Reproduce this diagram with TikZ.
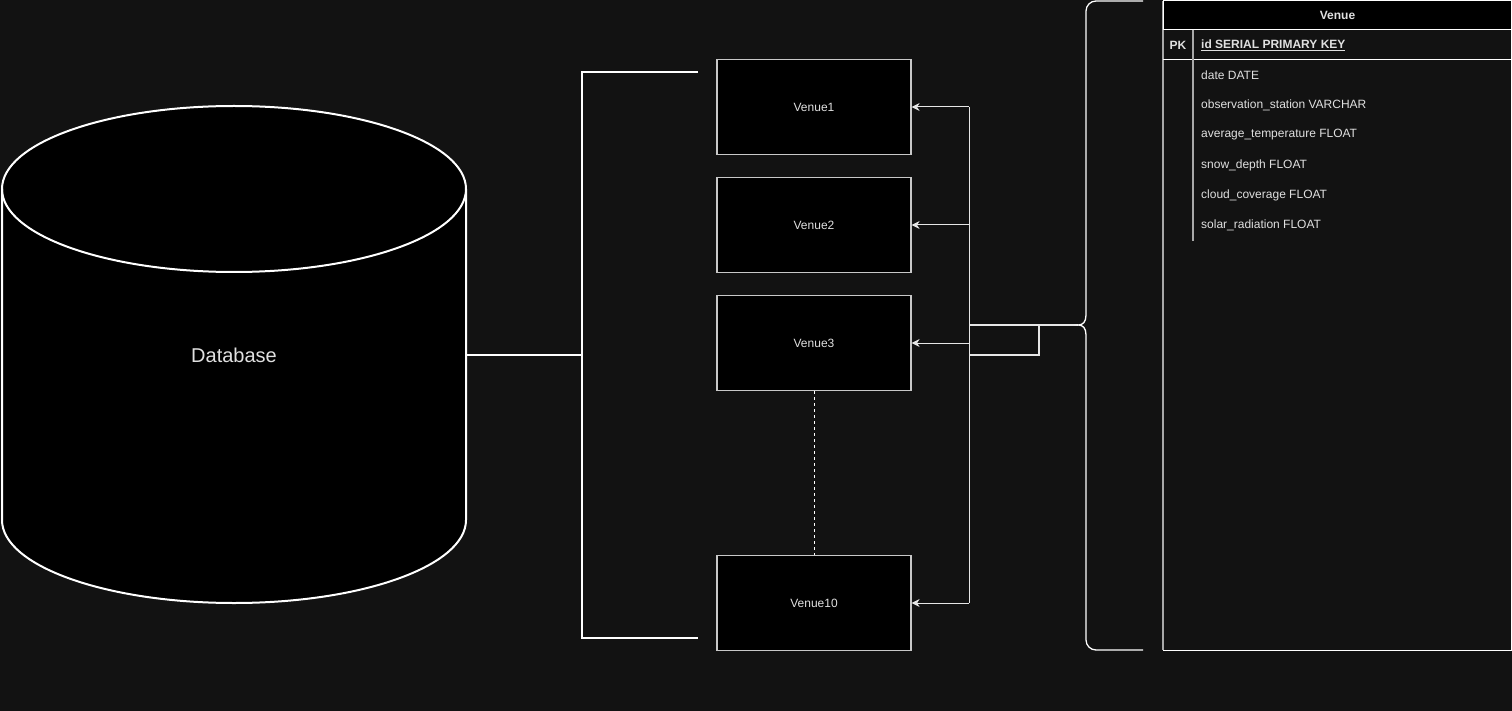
\documentclass[tikz,border=0pt]{standalone}
\usepackage{fontspec}
\setmainfont{Liberation Sans}
\usetikzlibrary{arrows.meta}
\definecolor{bg}{HTML}{121212}
\definecolor{boxline}{HTML}{C8C8C8}
\definecolor{txt}{HTML}{E0E0E0}
\definecolor{conn}{HTML}{E6E6E6}
\definecolor{divline}{HTML}{A8A8A8}
\tikzset{
  venue/.style={draw=boxline, line width=1.2pt, fill=black, minimum width=194pt, minimum height=95pt, inner sep=0pt, text=txt, font=\fontsize{12}{14}\selectfont},
  heavy/.style={draw=white, line width=2pt},
  conline/.style={draw=conn, line width=1pt},
  arr/.style={conline, -{Stealth[length=8pt,width=8pt,inset=2.5pt]}},
  field/.style={anchor=west, inner sep=0pt, text=txt, font=\fontsize{12}{14}\selectfont},
}
\begin{document}
\begin{tikzpicture}[x=1pt,y=-1pt]
\fill[bg] (0,0) rectangle (1512,711);
\useasboundingbox (0,0) rectangle (1512,711);

% Database cylinder
\fill[black] (2,189) -- (2,520) arc[start angle=180,end angle=360,x radius=232pt,y radius=83pt] -- (466,189) arc[start angle=0,end angle=180,x radius=232pt,y radius=83pt] -- cycle;
\draw[heavy] (2,189) -- (2,520) arc[start angle=180,end angle=360,x radius=232pt,y radius=83pt] -- (466,189);
\draw[heavy] (234,189) ellipse[x radius=232pt,y radius=83pt];
\node[minimum width=464pt, minimum height=496pt, inner sep=0pt, text=txt, font=\fontsize{20}{24}\selectfont] (db) at (234,355) {Database};

% bracket
\coordinate (bktop) at (698,72);
\coordinate (bkbot) at (698,638);
\coordinate (bkmid) at (582,355);
\draw[heavy] (bktop) -- (582,72) -- (582,638) -- (bkbot);
\draw[heavy] (db.east) -- (bkmid);

% venues
\node[venue] (v1) at (814,107) {Venue1};
\node[venue] (v2) at (814,225) {Venue2};
\node[venue] (v3) at (814,343) {Venue3};
\node[venue] (v10) at (814,603) {Venue10};
\draw[draw=white, line width=1pt, dash pattern=on 3pt off 3pt] (v3.south) -- (v10.north);

% arrows
\coordinate (c1) at (969,107);
\coordinate (c2) at (969,225);
\coordinate (c3) at (969,343);
\coordinate (c10) at (969,603);
\draw[conline] (c1) -- (c10);
\draw[arr] (c1) -- (v1.east);
\draw[arr] (c2) -- (v2.east);
\draw[arr] (c3) -- (v3.east);
\draw[arr] (c10) -- (v10.east);

% link to brace
\coordinate (la) at (969,325);
\coordinate (lb) at (969,355);
\coordinate (bt) at (1078,325);
\draw[conline, line width=1.5pt] (la) -- (bt);
\draw[conline, line width=1.5pt] (1039,325) -- (1039,355) -- (lb);

% brace
\draw[draw=white, line width=1.3pt] (1143,1) -- (1096,1) arc[start angle=90,end angle=180,radius=10pt] -- (1086,315)
  .. controls (1086,322) and (1083,325) .. (bt)
  .. controls (1083,325) and (1086,328) .. (1086,335) -- (1086,640)
  arc[start angle=180,end angle=270,radius=10pt] -- (1143,650);

% table
\draw[draw=white, line width=1pt] (1163,1) rectangle (1511,650);
\draw[draw=divline, line width=1.5pt] (1163,1) -- (1163,650);
\node[draw=white, line width=1pt, fill=black, minimum width=348pt, minimum height=29pt, inner sep=0pt, anchor=north west, text=txt, font=\fontsize{12}{14}\selectfont\bfseries] (hdr) at (1163,0.5) {Venue};
\draw[draw=white, line width=1pt] (1163,60) -- (1511,60);
\draw[draw=divline, line width=1.5pt] (1193,30) -- (1193,241);
\node[inner sep=0pt, text=txt, font=\fontsize{12}{14}\selectfont\bfseries] (pk) at (1178,45) {PK};
\node[field, font=\fontsize{12}{14}\selectfont\bfseries] (f0) at (1201,45) {\underline{id SERIAL PRIMARY KEY}};
\node[field] (f1) at (1201,75) {date DATE};
\node[field] (f2) at (1201,105) {observation\_station VARCHAR};
\node[field] (f3) at (1201,135) {average\_temperature FLOAT};
\node[field] (f4) at (1201,165) {snow\_depth FLOAT};
\node[field] (f5) at (1201,195) {cloud\_coverage FLOAT};
\node[field] (f6) at (1201,225) {solar\_radiation FLOAT};
\end{tikzpicture}
\end{document}
